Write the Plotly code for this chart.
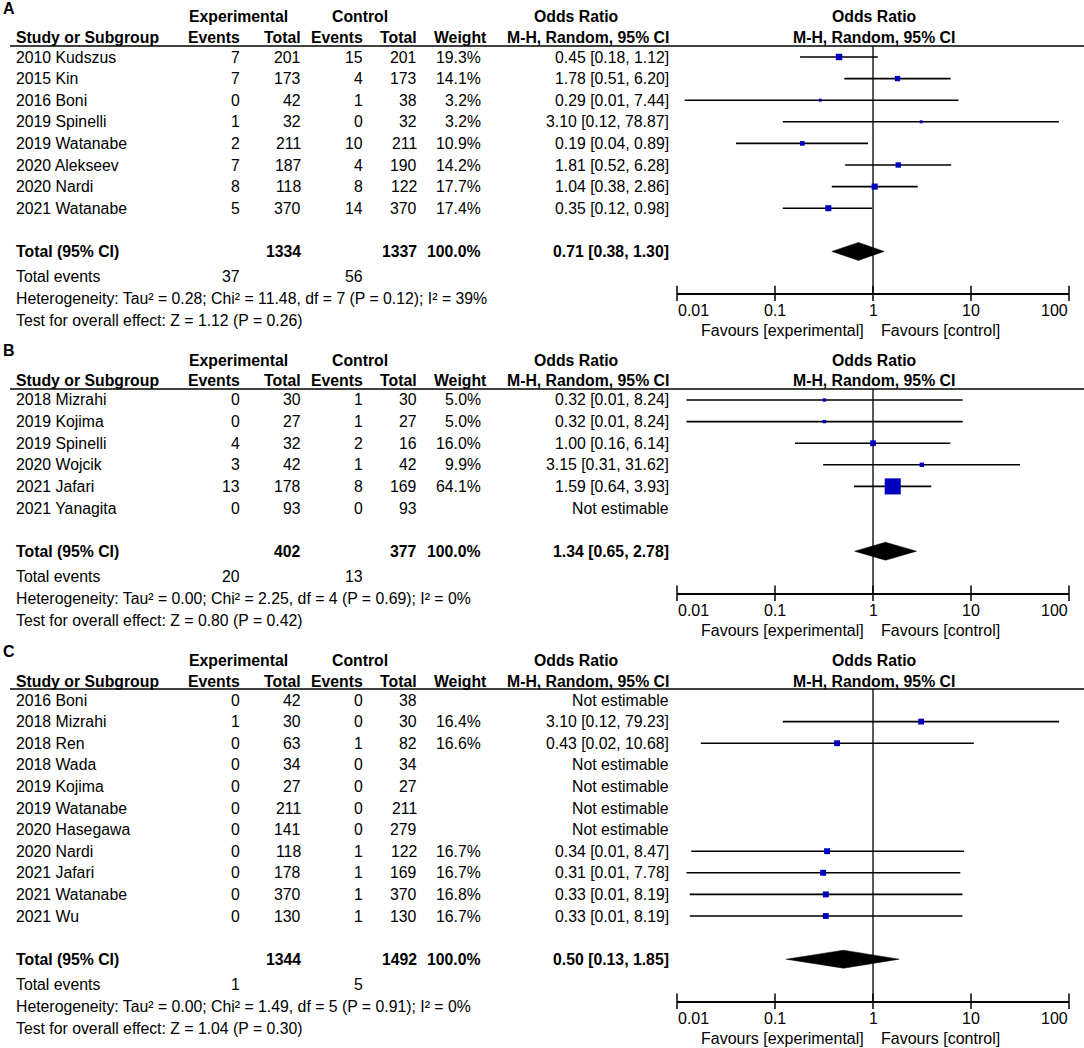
import math
import plotly.graph_objects as go

# ---------------- data ----------------
A_STUDY = ["2010 Kudszus", "2015 Kin", "2016 Boni", "2019 Spinelli", "2019 Watanabe",
           "2020 Alekseev", "2020 Nardi", "2021 Watanabe"]
A_EXP_EVENTS = [7, 7, 0, 1, 2, 7, 8, 5]
A_EXP_TOTAL = [201, 173, 42, 32, 211, 187, 118, 370]
A_CTRL_EVENTS = [15, 4, 1, 0, 10, 4, 8, 14]
A_CTRL_TOTAL = [201, 173, 38, 32, 211, 190, 122, 370]
A_WEIGHT = [19.3, 14.1, 3.2, 3.2, 10.9, 14.2, 17.7, 17.4]
A_OR = [0.45, 1.78, 0.29, 3.10, 0.19, 1.81, 1.04, 0.35]
A_LO = [0.18, 0.51, 0.012, 0.12, 0.04, 0.52, 0.38, 0.12]
A_HI = [1.12, 6.20, 7.44, 78.87, 0.89, 6.28, 2.86, 0.98]
A_TOTALS = [1334, 1337]
A_TOTAL_EVENTS = [37, 56]
A_POOLED = [0.71, 0.38, 1.30]
A_HET = "Heterogeneity: Tau² = 0.28; Chi² = 11.48, df = 7 (P = 0.12); I² = 39%"
A_TEST = "Test for overall effect: Z = 1.12 (P = 0.26)"

B_STUDY = ["2018 Mizrahi", "2019 Kojima", "2019 Spinelli", "2020 Wojcik", "2021 Jafari",
           "2021 Yanagita"]
B_EXP_EVENTS = [0, 0, 4, 3, 13, 0]
B_EXP_TOTAL = [30, 27, 32, 42, 178, 93]
B_CTRL_EVENTS = [1, 1, 2, 1, 8, 0]
B_CTRL_TOTAL = [30, 27, 16, 42, 169, 93]
B_WEIGHT = [5.0, 5.0, 16.0, 9.9, 64.1, None]
B_OR = [0.32, 0.32, 1.00, 3.15, 1.59, None]
B_LO = [0.0125, 0.0125, 0.16, 0.31, 0.64, None]
B_HI = [8.24, 8.24, 6.14, 31.62, 3.93, None]
B_TOTALS = [402, 377]
B_TOTAL_EVENTS = [20, 13]
B_POOLED = [1.34, 0.65, 2.78]
B_HET = "Heterogeneity: Tau² = 0.00; Chi² = 2.25, df = 4 (P = 0.69); I² = 0%"
B_TEST = "Test for overall effect: Z = 0.80 (P = 0.42)"

C_STUDY = ["2016 Boni", "2018 Mizrahi", "2018 Ren", "2018 Wada", "2019 Kojima",
           "2019 Watanabe", "2020 Hasegawa", "2020 Nardi", "2021 Jafari",
           "2021 Watanabe", "2021 Wu"]
C_EXP_EVENTS = [0, 1, 0, 0, 0, 0, 0, 0, 0, 0, 0]
C_EXP_TOTAL = [42, 30, 63, 34, 27, 211, 141, 118, 178, 370, 130]
C_CTRL_EVENTS = [0, 0, 1, 0, 0, 0, 0, 1, 1, 1, 1]
C_CTRL_TOTAL = [38, 30, 82, 34, 27, 211, 279, 122, 169, 370, 130]
C_WEIGHT = [None, 16.4, 16.6, None, None, None, None, 16.7, 16.7, 16.8, 16.7]
C_OR = [None, 3.10, 0.43, None, None, None, None, 0.34, 0.31, 0.33, 0.33]
C_LO = [None, 0.12, 0.0175, None, None, None, None, 0.014, 0.0125, 0.0135, 0.0135]
C_HI = [None, 79.23, 10.68, None, None, None, None, 8.47, 7.78, 8.19, 8.19]
C_TOTALS = [1344, 1492]
C_TOTAL_EVENTS = [1, 5]
C_POOLED = [0.50, 0.13, 1.85]
C_HET = "Heterogeneity: Tau² = 0.00; Chi² = 1.49, df = 5 (P = 0.91); I² = 0%"
C_TEST = "Test for overall effect: Z = 1.04 (P = 0.30)"

AXIS_TICKS = [0.01, 0.1, 1, 10, 100]
AXIS_TICK_TEXT = ["0.01", "0.1", "1", "10", "100"]

# ---------------- layout constants ----------------
W, HT = 1084, 1048
FONT = "Liberation Sans, Arial, sans-serif"
FS = 15.8
FS_AX = 16
ROW = 21.6
X0_PX, X1_PX = 677, 1069
COL = dict(study=15, exp_ev=241, exp_tot=302, ctl_ev=364, ctl_tot=418,
           weight_h=488, weight=482, ci=670)
SQ_COLOR = "#0000C0"

panels = [
    dict(label="A", H=46, study=A_STUDY, ee=A_EXP_EVENTS, et=A_EXP_TOTAL, ce=A_CTRL_EVENTS,
         ct=A_CTRL_TOTAL, w=A_WEIGHT, orr=A_OR, lo=A_LO, hi=A_HI, tot=A_TOTALS,
         tev=A_TOTAL_EVENTS, pooled=A_POOLED, het=A_HET, test=A_TEST),
    dict(label="B", H=389, study=B_STUDY, ee=B_EXP_EVENTS, et=B_EXP_TOTAL, ce=B_CTRL_EVENTS,
         ct=B_CTRL_TOTAL, w=B_WEIGHT, orr=B_OR, lo=B_LO, hi=B_HI, tot=B_TOTALS,
         tev=B_TOTAL_EVENTS, pooled=B_POOLED, het=B_HET, test=B_TEST),
    dict(label="C", H=689, study=C_STUDY, ee=C_EXP_EVENTS, et=C_EXP_TOTAL, ce=C_CTRL_EVENTS,
         ct=C_CTRL_TOTAL, w=C_WEIGHT, orr=C_OR, lo=C_LO, hi=C_HI, tot=C_TOTALS,
         tev=C_TOTAL_EVENTS, pooled=C_POOLED, het=C_HET, test=C_TEST),
]


def px(x):
    return x / W


def py(y):
    return 1 - y / HT


fig = go.Figure()
annotations = []
shapes = []


def txt(x, y, s, anchor="left", bold=False, size=FS):
    annotations.append(dict(
        x=px(x), y=py(y), xref="paper", yref="paper", text=f"<b>{s}</b>" if bold else s,
        showarrow=False, xanchor=anchor, yanchor="middle", borderpad=0,
        font=dict(family=FONT, size=size, color="#000000")))


layout_axes = {}
for k, p in enumerate(panels):
    H = p["H"]
    n = len(p["study"])
    row0 = H + 11
    total_y = row0 + ROW * (n + 1)
    axis_y = total_y + 42
    xa = "x" if k == 0 else f"x{k + 1}"
    ya = "y" if k == 0 else f"y{k + 1}"
    xname = "xaxis" if k == 0 else f"xaxis{k + 1}"
    yname = "yaxis" if k == 0 else f"yaxis{k + 1}"
    top = (H - row0) / ROW
    bottom = (axis_y - row0) / ROW

    layout_axes[xname] = dict(type="log", range=[-2, 2], domain=[px(X0_PX), px(X1_PX)],
                              anchor=ya, showline=True, linecolor="#000", linewidth=1.5,
                              ticks="", showticklabels=False, showgrid=False, zeroline=False)
    layout_axes[yname] = dict(range=[bottom, top], domain=[py(axis_y), py(H)], anchor=xa,
                              visible=False, showgrid=False, zeroline=False)

    # header
    r1, r2 = H - 29, H - 8
    txt(2, H - 38, p["label"], bold=True, size=16)
    txt(238, r1, "Experimental", "center", True)
    txt(360, r1, "Control", "center", True)
    txt(576, r1, "Odds Ratio", "center", True)
    txt(874, r1, "Odds Ratio", "center", True)
    txt(COL["study"], r2, "Study or Subgroup", "left", True)
    txt(COL["exp_ev"], r2, "Events", "right", True)
    txt(COL["exp_tot"], r2, "Total", "right", True)
    txt(COL["ctl_ev"], r2, "Events", "right", True)
    txt(COL["ctl_tot"], r2, "Total", "right", True)
    txt(COL["weight_h"], r2, "Weight", "right", True)
    txt(COL["ci"], r2, "M-H, Random, 95% CI", "right", True)
    txt(874, r2, "M-H, Random, 95% CI", "center", True)
    shapes.append(dict(type="line", xref="paper", yref="paper", x0=px(10), x1=1,
                       y0=py(H), y1=py(H), line=dict(color="#000", width=1.5)))

    # study rows
    for i in range(n):
        y = row0 + ROW * i
        txt(COL["study"], y, p["study"][i])
        txt(COL["exp_ev"], y, str(p["ee"][i]), "right")
        txt(COL["exp_tot"], y, str(p["et"][i]), "right")
        txt(COL["ctl_ev"], y, str(p["ce"][i]), "right")
        txt(COL["ctl_tot"], y, str(p["ct"][i]), "right")
        if p["w"][i] is not None:
            txt(COL["weight"], y, f"{p['w'][i]:.1f}%", "right")
            txt(COL["ci"], y, f"{p['orr'][i]:.2f} [{p['lo'][i]:.2f}, {p['hi'][i]:.2f}]", "right")
        else:
            txt(COL["ci"], y, "Not estimable", "right")

    # totals
    txt(COL["study"], total_y, "Total (95% CI)", "left", True)
    txt(COL["exp_tot"], total_y, str(p["tot"][0]), "right", True)
    txt(COL["ctl_tot"], total_y, str(p["tot"][1]), "right", True)
    txt(COL["weight"], total_y, "100.0%", "right", True)
    pe, pl, ph = p["pooled"]
    txt(COL["ci"], total_y, f"{pe:.2f} [{pl:.2f}, {ph:.2f}]", "right", True)
    txt(COL["study"], total_y + 25, "Total events")
    txt(COL["exp_ev"], total_y + 25, str(p["tev"][0]), "right")
    txt(COL["ctl_ev"], total_y + 25, str(p["tev"][1]), "right")
    txt(COL["study"], total_y + 47, p["het"])
    txt(COL["study"], total_y + 69, p["test"])

    # forest plot: reference line at OR = 1
    fig.add_trace(go.Scatter(x=[1, 1], y=[top, bottom], mode="lines", xaxis=xa, yaxis=ya,
                             line=dict(color="#222", width=1.5), hoverinfo="skip",
                             showlegend=False, cliponaxis=False))
    # whiskers
    wx, wy, mx, my, ms = [], [], [], [], []
    for i in range(n):
        if p["orr"][i] is None:
            continue
        wx += [p["lo"][i], p["hi"][i], None]
        wy += [i, i, None]
        mx.append(p["orr"][i])
        my.append(i)
        ms.append(2.3 + 0.215 * p["w"][i])
    fig.add_trace(go.Scatter(x=wx, y=wy, mode="lines", xaxis=xa, yaxis=ya,
                             line=dict(color="#000", width=1.6), hoverinfo="skip",
                             showlegend=False, cliponaxis=False))
    fig.add_trace(go.Scatter(x=mx, y=my, mode="markers", xaxis=xa, yaxis=ya,
                             marker=dict(symbol="square", size=ms, color=SQ_COLOR,
                                         opacity=1, line=dict(width=0)),
                             showlegend=False, cliponaxis=False))
    # diamond
    dh = 9 / ROW
    ti = n + 1
    fig.add_trace(go.Scatter(x=[pl, pe, ph, pe, pl], y=[ti, ti - dh, ti, ti + dh, ti],
                             mode="lines", fill="toself", fillcolor="#000",
                             line=dict(color="#000", width=0.5), xaxis=xa, yaxis=ya,
                             showlegend=False, hoverinfo="skip"))
    # axis tick marks
    fig.add_trace(go.Scatter(x=AXIS_TICKS, y=[bottom] * len(AXIS_TICKS), mode="markers",
                             xaxis=xa, yaxis=ya,
                             marker=dict(symbol="line-ns-open", size=11, color="#000",
                                         line=dict(color="#000", width=1.5)),
                             showlegend=False, hoverinfo="skip", cliponaxis=False))
    for j, (tv, tt) in enumerate(zip(AXIS_TICKS, AXIS_TICK_TEXT)):
        anc = "left" if j == 0 else ("right" if j == len(AXIS_TICKS) - 1 else "center")
        annotations.append(dict(x=math.log10(tv), y=py(axis_y + 17), xref=xa, yref="paper",
                                text=tt, showarrow=False, xanchor=anc, yanchor="middle",
                                borderpad=0,
                                font=dict(family=FONT, size=FS_AX, color="#000")))
    txt(865, axis_y + 37, "Favours [experimental]", "right", size=FS_AX)
    txt(880, axis_y + 37, "Favours [control]", "left", size=FS_AX)

fig.update_layout(width=W, height=HT, margin=dict(l=0, r=0, t=0, b=0),
                  paper_bgcolor="white", plot_bgcolor="white",
                  annotations=annotations, shapes=shapes, **layout_axes)
fig.write_html("out.html", config={"displayModeBar": False},
               post_script="document.body.style.margin='0px';document.body.style.overflow='hidden';")
